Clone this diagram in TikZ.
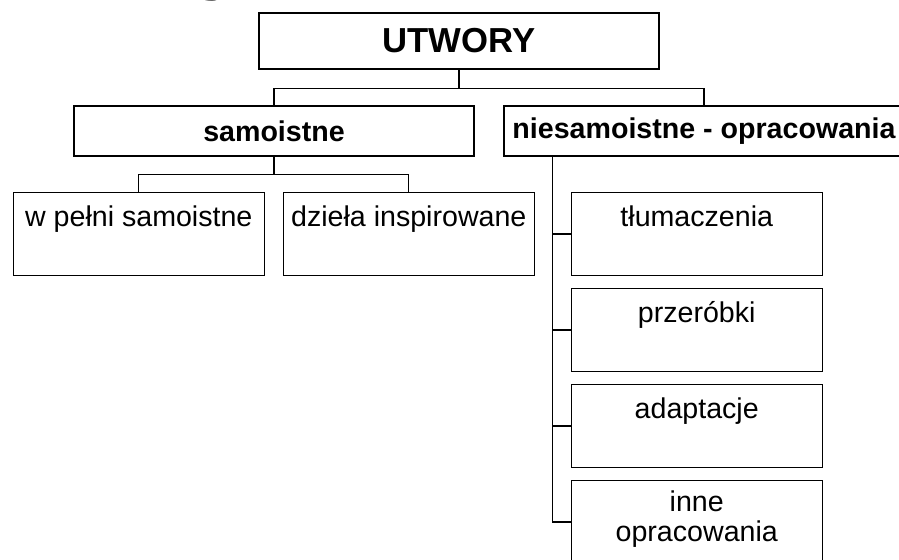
\documentclass[tikz,border=0pt]{standalone}
\usepackage{fontspec}
\setmainfont{Liberation Sans}
\usetikzlibrary{shapes,arrows}
\tikzstyle{block} = [rectangle, draw, line width=0.6pt, 
    text centered, inner sep=0pt, font=\fontsize{14.3}{15}\selectfont]
\tikzstyle{head} = [block, minimum height=25pt, minimum width=200pt,
    font=\fontsize{14.3}{15}\selectfont\bfseries]
\tikzstyle{leaf} = [block, anchor=north, align=center, minimum width=125.5pt,
    text height=17pt, text depth=24.5pt]
\tikzstyle{line} = [draw, line width=0.6pt]

\begin{document}
\begin{tikzpicture}[x=0.5pt, y=-0.5pt]
\useasboundingbox (0,0) rectangle (899,560);
\node [font=\fontsize{40}{40}\selectfont\bfseries, inner sep=0pt, anchor=base west] at (201,-15) (titel) {y};

\node [block, minimum width=200pt, minimum height=28pt, font=\fontsize{17.35}{18}\selectfont\bfseries] at (459,41) (utwory) {UTWORY};
\node [head] at (274,131) (samo) {samoistne};
\node [head] at (704,131) (niesamo) {niesamoistne - opracowania};

\node [leaf] at (138.8,192) (pelni) {w pełni samoistne};
\node [leaf] at (408.8,192) (dziela) {dzieła inspirowane};

\node [leaf] at (696.75,192) (tlum) {tłumaczenia};
\node [leaf] at (696.75,288) (przer) {przeróbki};
\node [leaf] at (696.75,384) (adapt) {adaptacje};
\node [leaf, text height=30.5pt, text depth=11pt] at (696.75,480) (inne) {inne\\opracowania};

\draw [line] (utwory.south) -- ++(0,19) -| (samo.north);
\draw [line] (utwory.south) -- ++(0,19) -| (niesamo.north);
\draw [line] (samo.south) -- ++(0,18) -| (pelni.north);
\draw [line] (samo.south) -- ++(0,18) -| (dziela.north);

\path (niesamo.south west) ++(49,0) coordinate (spine);
\foreach \n in {tlum, przer, adapt, inne}
    \draw [line] (spine) |- (\n.west);
\end{tikzpicture}
\end{document}
